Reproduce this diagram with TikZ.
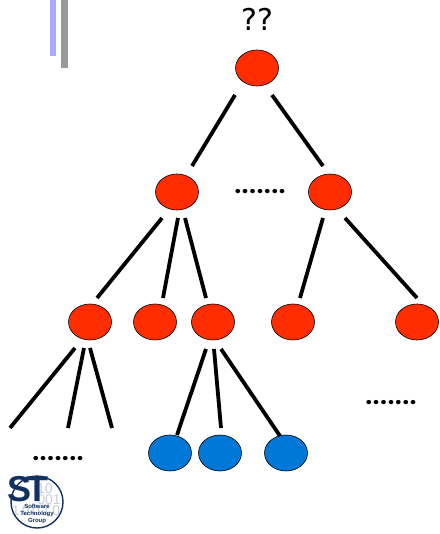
\documentclass[tikz,border=0pt]{standalone}
\usepackage{fontspec}
\setmainfont{Liberation Sans}
\newfontfamily\dotfont[LetterSpace=4]{Poppins}
\newfontfamily\qfont{DejaVu Sans}
\definecolor{nodered}{HTML}{FF2D00}
\definecolor{nodeblue}{HTML}{0078D8}
\definecolor{barblue}{HTML}{AAAAFF}
\definecolor{bargray}{HTML}{999999}
\definecolor{logoblue}{HTML}{14305E}
\definecolor{digit}{HTML}{C4CCE0}
\tikzset{
  inner/.style={ellipse,draw=black,line width=0.6pt,fill=nodered,minimum width=43pt,minimum height=36pt,inner sep=0pt},
  leaf/.style={ellipse,draw=black,line width=0.6pt,fill=nodeblue,minimum width=43pt,minimum height=36pt,inner sep=0pt},
  edge/.style={line width=3.8pt,black},
  dots/.style={font=\dotfont\bfseries\fontsize{23}{23}\selectfont,inner sep=0pt},
  digits/.style={font=\fontsize{14}{14}\selectfont,text=digit,inner sep=0pt,align=left},
  stlabel/.style={font=\bfseries\fontsize{6}{7}\selectfont,text=logoblue,inner sep=0pt,align=center}
}
\usetikzlibrary{shapes.geometric}
\begin{document}
\begin{tikzpicture}[x=1pt,y=-1pt]
\useasboundingbox (0,0) rectangle (439,534);
\fill[barblue] (50,0) rectangle (56,56);
\fill[bargray] (61,0) rectangle (68,68);
\node[font=\qfont\fontsize{30}{30}\selectfont,inner sep=0pt] (q) at (257,19) {??};
\node[inner] (r) at (257,68) {};
\node[inner] (a) at (177,192) {};
\node[inner] (b) at (330,192) {};
\node[inner] (c) at (90,322) {};
\node[inner] (d) at (155,322) {};
\node[inner] (e) at (213,322) {};
\node[inner] (f) at (293,322) {};
\node[inner] (g) at (417,322) {};
\node[leaf] (h) at (170,453) {};
\node[leaf] (i) at (220,453) {};
\node[leaf] (j) at (286,453) {};
\node[dots] (d1) at (260,192) {.......};
\node[dots] (d2) at (391,403) {.......};
\node[dots] (d3) at (58,459) {.......};
\coordinate (r1) at (235,95); \coordinate (a0) at (192,166);
\coordinate (r2) at (272,95); \coordinate (b0) at (323,166);
\coordinate (a1) at (162,218); \coordinate (c0) at (97,298);
\coordinate (a2) at (178,218); \coordinate (d0) at (163,298);
\coordinate (a3) at (185,218); \coordinate (e0) at (206,298);
\coordinate (b1) at (323,218); \coordinate (f0) at (300,298);
\coordinate (b2) at (345,218); \coordinate (g0) at (417,298);
\coordinate (c1) at (75,348); \coordinate (x1) at (10,428);
\coordinate (c2) at (84,348); \coordinate (x2) at (68,428);
\coordinate (c3) at (90,348); \coordinate (x3) at (112,428);
\coordinate (e1) at (206,349); \coordinate (h0) at (177,435);
\coordinate (e2) at (214,349); \coordinate (i0) at (221,428);
\coordinate (e3) at (221,349); \coordinate (j0) at (280,436);
\foreach \s/\t in {r1/a0,r2/b0,a1/c0,a2/d0,a3/e0,b1/f0,b2/g0,c1/x1,c2/x2,c3/x3,e1/h0,e2/i0,e3/j0}
  \draw[edge] (\s) -- (\t);
% logo
\node[digits] (l1) at (45,489) {10};
\node[digits] (l2) at (49,500) {001};
\node[digits] (l3) at (36,511) {1\,0\,0\,1\,0};
\draw[logoblue,line width=1.4pt] (37,502) circle (26);
\node[font=\bfseries\fontsize{36}{36}\selectfont,text=logoblue,inner sep=0pt] (st) at (28,489) {S\kern-6pt T};
\node[stlabel] (sw) at (37,514) {Software\\Technology\\Group};
\end{tikzpicture}
\end{document}
